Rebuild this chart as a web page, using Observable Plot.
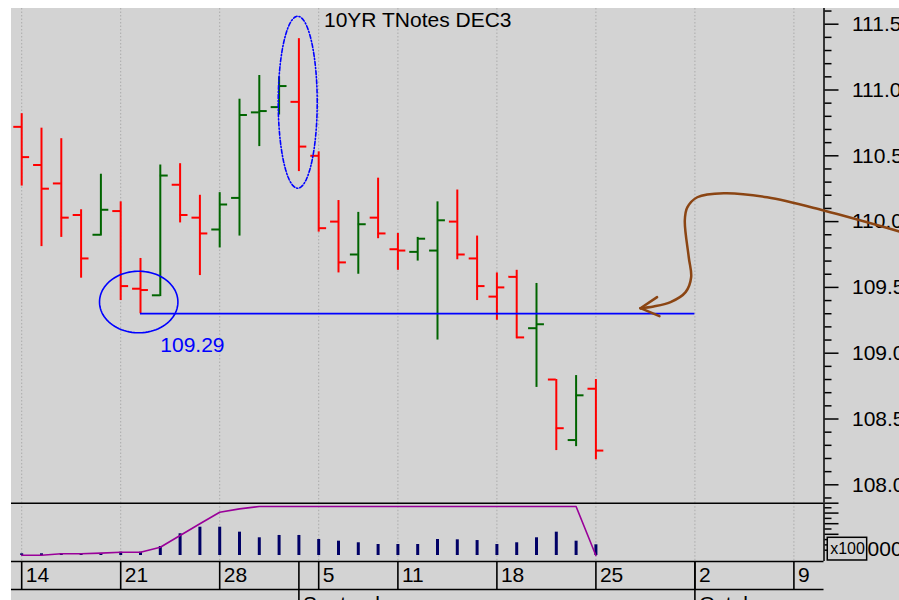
<!DOCTYPE html>
<html><head><meta charset="utf-8">
<script src="https://cdn.jsdelivr.net/npm/d3@7"></script>
<script src="https://cdn.jsdelivr.net/npm/@observablehq/plot@0.6"></script>
<style>
body{margin:0;background:#fff;}
#chart{position:relative;width:899px;height:600px;overflow:hidden;}
#chart svg{position:absolute;left:0;top:0;}
</style></head><body><div id="chart"></div>
<script>
// ---- data ----
const title = "10YR TNotes DEC3";
const tradingDays = [
  "2023-08-14","2023-08-15","2023-08-16","2023-08-17","2023-08-18",
  "2023-08-21","2023-08-22","2023-08-23","2023-08-24","2023-08-25",
  "2023-08-28","2023-08-29","2023-08-30","2023-08-31","2023-09-01",
  "2023-09-05","2023-09-06","2023-09-07","2023-09-08",
  "2023-09-11","2023-09-12","2023-09-13","2023-09-14","2023-09-15",
  "2023-09-18","2023-09-19","2023-09-20","2023-09-21","2023-09-22",
  "2023-09-25","2023-09-26","2023-09-27","2023-09-28","2023-09-29",
  "2023-10-02","2023-10-03","2023-10-04","2023-10-05","2023-10-06",
  "2023-10-09","2023-10-10","2023-10-11","2023-10-12","2023-10-13"
];
// one bar per trading day, starting 2023-08-14
const open  = [110.72,110.43,110.29,110.05,109.90,110.08,109.49,109.44,110.28,110.03,109.94,110.18,110.83,110.87,110.91,110.50,110.00,109.75,110.03,109.79,109.77,109.78,110.00,109.72,109.43,109.58,109.19,108.80,108.34,108.73];
const high  = [110.82,110.71,110.63,110.09,110.36,110.15,109.72,110.43,110.44,110.20,110.22,110.93,111.11,111.10,111.39,110.53,110.16,110.07,110.33,109.91,109.88,110.15,110.24,109.89,109.61,109.63,109.53,108.80,108.83,108.80];
const low   = [110.27,109.81,109.88,109.57,109.89,109.40,109.30,109.43,109.99,109.59,109.80,109.89,110.57,110.81,110.38,109.92,109.61,109.60,109.87,109.63,109.70,109.10,109.71,109.40,109.25,109.11,108.74,108.26,108.29,108.19];
const close = [110.49,110.25,110.03,109.72,110.09,109.51,109.48,110.35,110.05,109.91,110.13,110.81,110.84,111.03,110.57,109.95,109.69,109.98,109.91,109.78,109.87,110.01,109.75,109.51,109.50,109.12,109.22,108.43,108.68,108.26];
const volume = [160,160,190,190,190,310,310,850,2050,2670,2670,2200,1670,1890,1890,1510,1350,1200,1040,1040,1040,1510,1480,1410,1040,1200,1670,2200,1350,1010];
const openInterest = [30,30,160,160,220,310,310,780,1890,2990,4080,4400,4620,4620,4620,4620,4620,4620,4620,4620,4620,4620,4620,4620,4620,4620,4620,4620,4620,0];
const priceTicks = [108.0,108.5,109.0,109.5,110.0,110.5,111.0,111.5];
const volTicks = [1000,2000,3000,4000];
const volMinorTicks = [500,1500,2500,3500,4500];
// annotations (trading-day index, price)
const support = {from: "2023-08-22", to: "2023-10-02", value: 109.30, label: "109.29"};
const ovalSep1 = {cx: 13.94, cy: 110.907, rx: 0.985, ry: 0.6535};
const ovalLow = {cx: 5.91, cy: 109.389, rx: 1.98, ry: 0.234};
const arrowPath = [
  {i:44.33,p:109.925},{i:40.51,p:110.084},{i:37.65,p:110.185},{i:35.46,p:110.216},
  {i:34.12,p:110.185},{i:33.61,p:110.106},{i:33.49,p:110.008},{i:33.69,p:109.729},
  {i:33.81,p:109.577},{i:33.53,p:109.464},{i:32.77,p:109.388},{i:31.92,p:109.355},{i:31.25,p:109.342}
];
const arrowWings = [
  {i1:32.09,p1:109.426,i2:31.25,p2:109.342},
  {i1:32.21,p1:109.281,i2:31.25,p2:109.342}
];

// ---- derived ----
const RED = "#ff0000", GREEN = "#006400", BLUE = "#0000ff", BROWN = "#8b4513";
const parse = d3.utcParse("%Y-%m-%d");
const days = tradingDays.map(parse);
const idxOf = s => tradingDays.indexOf(s);
const weekIdx = days.map((d,i) => (i === 0 || +d3.utcMonday.floor(d) !== +d3.utcMonday.floor(days[i-1])) ? i : -1).filter(i => i >= 0);
const monthIdx = days.map((d,i) => (i > 0 && d.getUTCMonth() !== days[i-1].getUTCMonth()) ? i : -1).filter(i => i >= 0);
const bars = open.map((o,i) => ({i, open:o, high:high[i], low:low[i], close:close[i],
  up: i === 0 ? close[i] > o : close[i] > close[i-1]}));
const vol = volume.map((v,i) => ({i, v, oi: openInterest[i]}));
const sup = {x1: idxOf(support.from), x2: idxOf(support.to), value: support.value, label: support.label};
function oval(o){ return d3.range(0, 361, 4).map(a => ({x: o.cx + o.rx*Math.cos(a*Math.PI/180), y: o.cy + o.ry*Math.sin(a*Math.PI/180)})); }
const minorPrice = d3.range(1079, 1117).map(d => d/10).filter(d => Math.round(d*10) % 5 !== 0);

const xDomain = [-0.515, 40.52];
const font = "'Liberation Sans', Arial, Helvetica, sans-serif";
const common = {width: 899, height: 600, marginLeft: 11, marginRight: 75.5,
  x: {type: "linear", domain: xDomain, axis: null},
  style: {background: "transparent", fontFamily: font, fontSize: "21px", color: "black", overflow: "visible"}};
const grid = {stroke: "#ababab", strokeDasharray: "1.5,2", strokeWidth: 1};

const chart = document.getElementById("chart");

// background
chart.append(Plot.plot({width: 899, height: 600, marginTop: 8, marginLeft: 11, marginRight: 0, marginBottom: 0,
  style: {background: "white"},
  marks: [Plot.frame({fill: "#d3d3d3", stroke: "#d3d3d3"})]}));

// price panel
chart.append(Plot.plot({...common, marginTop: 8, marginBottom: 97.3,
  y: {type: "linear", domain: [107.8602, 111.6193], axis: null},
  marks: [
    Plot.ruleX(weekIdx, grid),
    Plot.ruleX(bars, {filter: d => d.up, x: "i", y1: "low", y2: "high", stroke: GREEN, strokeWidth: 2}),
    Plot.ruleY(bars, {filter: d => d.up, y: "open", x1: d => d.i - 0.4, x2: "i", stroke: GREEN, strokeWidth: 2}),
    Plot.ruleY(bars, {filter: d => d.up, y: "close", x1: "i", x2: d => d.i + 0.4, stroke: GREEN, strokeWidth: 2}),
    Plot.ruleX(bars, {filter: d => !d.up, x: "i", y1: "low", y2: "high", stroke: RED, strokeWidth: 2}),
    Plot.ruleY(bars, {filter: d => !d.up, y: "open", x1: d => d.i - 0.4, x2: "i", stroke: RED, strokeWidth: 2}),
    Plot.ruleY(bars, {filter: d => !d.up, y: "close", x1: "i", x2: d => d.i + 0.4, stroke: RED, strokeWidth: 2}),
    Plot.ruleY([sup], {y: "value", x1: "x1", x2: "x2", stroke: BLUE, strokeWidth: 1.7}),
    Plot.text([sup], {x: d => d.x1 + 1, y: "value", text: "label", fill: BLUE, textAnchor: "start", dy: 31.5, fontSize: 21}),
    Plot.line(oval(ovalLow), {x: "x", y: "y", stroke: BLUE, strokeWidth: 1.6}),
    Plot.line(oval(ovalSep1), {x: "x", y: "y", stroke: BLUE, strokeWidth: 1.6, strokeDasharray: "4,2,1.2,2"}),
    Plot.ruleX([xDomain[1]], {stroke: "black", strokeWidth: 1.5}),
    Plot.axisY(minorPrice, {anchor: "right", tickSize: 7, tickFormat: () => "", label: null, strokeWidth: 1.5}),
    Plot.axisY(priceTicks, {anchor: "right", tickSize: 14, tickPadding: 14, tickFormat: d3.format(".1f"), fontSize: 21, label: null, strokeWidth: 1.5}),
    Plot.text([title], {frameAnchor: "top", lineAnchor: "top", dy: 4, fontSize: 21}),
    Plot.line(arrowPath, {x: "i", y: "p", curve: "catmull-rom", stroke: BROWN, strokeWidth: 2.5}),
    Plot.link(arrowWings, {x1: "i1", y1: "p1", x2: "i2", y2: "p2", stroke: BROWN, strokeWidth: 2.5, strokeLinecap: "round"})
  ]}));

// volume panel
const volTop = 4932;
chart.append(Plot.plot({...common, marginTop: 502.7, marginBottom: 39,
  y: {type: "linear", domain: [-566, volTop], axis: null},
  marks: [
    Plot.ruleX(weekIdx, grid),
    Plot.ruleX(vol, {x: "i", y1: 0, y2: "v", stroke: "#000066", strokeWidth: 3}),
    Plot.line(vol, {x: "i", y: "oi", stroke: "#990099", strokeWidth: 1.6}),
    Plot.ruleY([volTop], {stroke: "black", strokeWidth: 1.6}),
    Plot.ruleX([xDomain[1]], {stroke: "black", strokeWidth: 1.5}),
    Plot.axisY([volTop, ...volTicks], {anchor: "right", tickSize: 14, tickFormat: () => "", label: null, strokeWidth: 1.5}),
    Plot.axisY(volMinorTicks, {anchor: "right", tickSize: 7, tickFormat: () => "", label: null, strokeWidth: 1.5}),
    Plot.rect([{}], {x1: xDomain[1] + 0.19, x2: xDomain[1] + 2.18, y1: -471, y2: 1669, fill: "#d3d3d3", stroke: "black", strokeWidth: 1.5}),
    Plot.text(["x100"], {x: xDomain[1] + 1.19, y: 594, fontSize: 16}),
    Plot.text(["000"], {x: xDomain[1] + 2.2, y: 613, textAnchor: "start", fontSize: 21})
  ]}));

// week row
const dayFmt = d3.utcFormat("%-d");
chart.append(Plot.plot({...common, marginTop: 561, marginBottom: 11,
  y: {type: "linear", domain: [0, 1], axis: null},
  marks: [
    Plot.ruleY([0, 1], {stroke: "black", strokeWidth: 1.6}),
    Plot.ruleX(weekIdx, {y1: 0, y2: 1, stroke: "black", strokeWidth: 1.6}),
    Plot.ruleX(monthIdx, {y1: 0, y2: 1, stroke: "black", strokeWidth: 1.6}),
    Plot.text(weekIdx, {x: d => d, y: 0.5, text: d => dayFmt(days[d]), textAnchor: "start", lineAnchor: "middle", dx: 4, fontSize: 21})
  ]}));

// month row
const monFmt = d3.utcFormat("%B");
chart.append(Plot.plot({...common, height: 640, marginTop: 589, marginBottom: 0,
  y: {type: "linear", domain: [0, 1], axis: null},
  marks: [
    Plot.ruleX(monthIdx, {y1: 0, y2: 1, stroke: "black", strokeWidth: 1.6}),
    Plot.text(monthIdx, {x: d => d, y: 1, text: d => monFmt(days[d]), textAnchor: "start", lineAnchor: "top", dx: 4, dy: 7, fontSize: 21})
  ]}));
</script></body></html>
